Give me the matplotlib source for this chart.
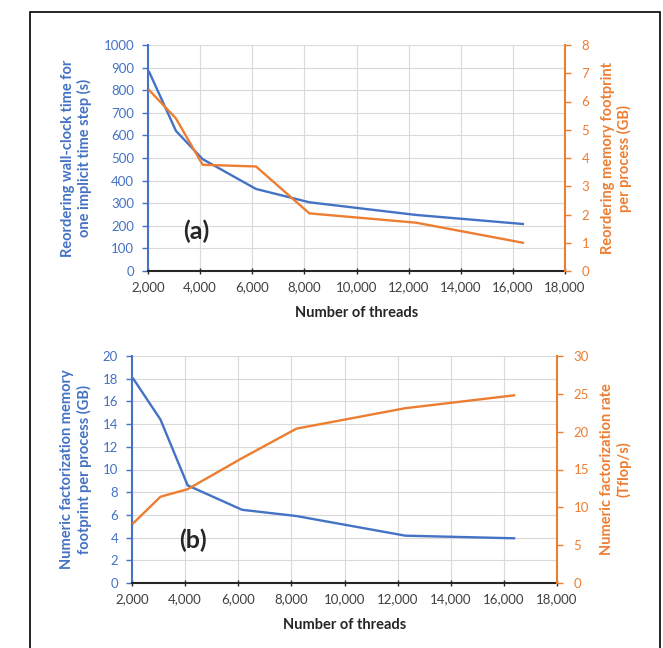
import matplotlib.pyplot as plt
from matplotlib.patches import Rectangle

plt.rcParams['font.family'] = ['Lato', 'DejaVu Sans']

threads = [2048, 3072, 4096, 6144, 8192, 12288, 16384]
reorder_time = [880, 620, 495, 363, 304, 248, 208]
reorder_mem = [6.4, 5.4, 3.76, 3.7, 2.04, 1.71, 1.0]
numeric_mem = [18.0, 14.4, 8.6, 6.45, 5.9, 4.17, 3.94]
numeric_rate = [7.9, 11.4, 12.4, 16.5, 20.4, 23.1, 24.8]

x_ticks = list(range(2000, 18001, 2000))
x_labels = [f"{t:,}" for t in x_ticks]

blue = '#4472C4'
orange = '#ED7D31'
grid_c = '#D9D9D9'
text_c = '#404040'

W, H = 663, 648
fig = plt.figure(figsize=(W / 100, H / 100), dpi=100)

# outer frame
fig.patches.append(Rectangle((30 / W, -0.02), 630 / W, 1 - 12 / H + 0.02,
                             transform=fig.transFigure, fill=False,
                             edgecolor='black', linewidth=1.2))


def make_panel(px_left, px_right, px_top, px_bottom, y1, y2, y1max, y1step,
               y2max, y2step, ylab1, ylab2, tag, tag_xy):
    ax = fig.add_axes([px_left / W, 1 - px_bottom / H,
                       (px_right - px_left) / W, (px_bottom - px_top) / H])
    ax.plot(threads, y1, color=blue, lw=1.7)
    ax.set_xlim(2000, 18000)
    ax.set_ylim(0, y1max)
    ax.set_yticks(range(0, y1max + 1, y1step))
    ax.set_xticks(x_ticks)
    ax.set_xticklabels(x_labels)
    ax.grid(True, color=grid_c, lw=0.8)
    ax.set_axisbelow(True)
    for s in ['top', 'right']:
        ax.spines[s].set_visible(False)
    ax.spines['left'].set_color(blue)
    ax.spines['left'].set_linewidth(1.5)
    ax.spines['bottom'].set_color('#262626')
    ax.spines['bottom'].set_linewidth(1.5)
    ax.tick_params(axis='y', colors=blue, labelcolor=blue, labelsize=9.5,
                   length=4, width=1, pad=6)
    ax.tick_params(axis='x', colors='#262626', labelcolor=text_c,
                   labelsize=9.5, direction='inout', length=5, width=1, pad=5)
    ax.set_xlabel('Number of threads', fontsize=10.5, fontweight='bold',
                  color='#262626', labelpad=9)
    ax.set_ylabel(ylab1, fontsize=10.5, fontweight='bold', color=blue,
                  labelpad=8, linespacing=1.2)
    ax.text(tag_xy[0], tag_xy[1], tag, transform=ax.transAxes,
            fontsize=18, fontweight='bold', color='#262626')

    ax2 = ax.twinx()
    ax2.plot(threads, y2, color=orange, lw=1.7)
    ax2.set_ylim(0, y2max)
    ax2.set_yticks(range(0, y2max + 1, y2step))
    for s in ['top', 'left', 'bottom']:
        ax2.spines[s].set_visible(False)
    ax2.spines['right'].set_color(orange)
    ax2.spines['right'].set_linewidth(1.5)
    ax2.tick_params(axis='y', colors=orange, labelcolor=orange,
                    labelsize=9.5, length=4, width=1, pad=8)
    ax2.set_ylabel(ylab2, fontsize=10.5, fontweight='bold', color=orange,
                   labelpad=8, linespacing=1.2, rotation=90)
    return ax, ax2


make_panel(148, 565, 45, 271, reorder_time, reorder_mem, 1000, 100, 8, 1,
           'Reordering wall-clock time for\none implicit time step (s)',
           'Reordering memory footprint\nper process (GB)',
           '(a)', (0.085, 0.14))

make_panel(132, 557, 356, 583, numeric_mem, numeric_rate, 20, 2, 30, 5,
           'Numeric factorization memory\nfootprint per process (GB)',
           'Numeric factorization rate\n(Tflop/s)',
           '(b)', (0.11, 0.155))

fig.savefig('out.png', dpi=100)
